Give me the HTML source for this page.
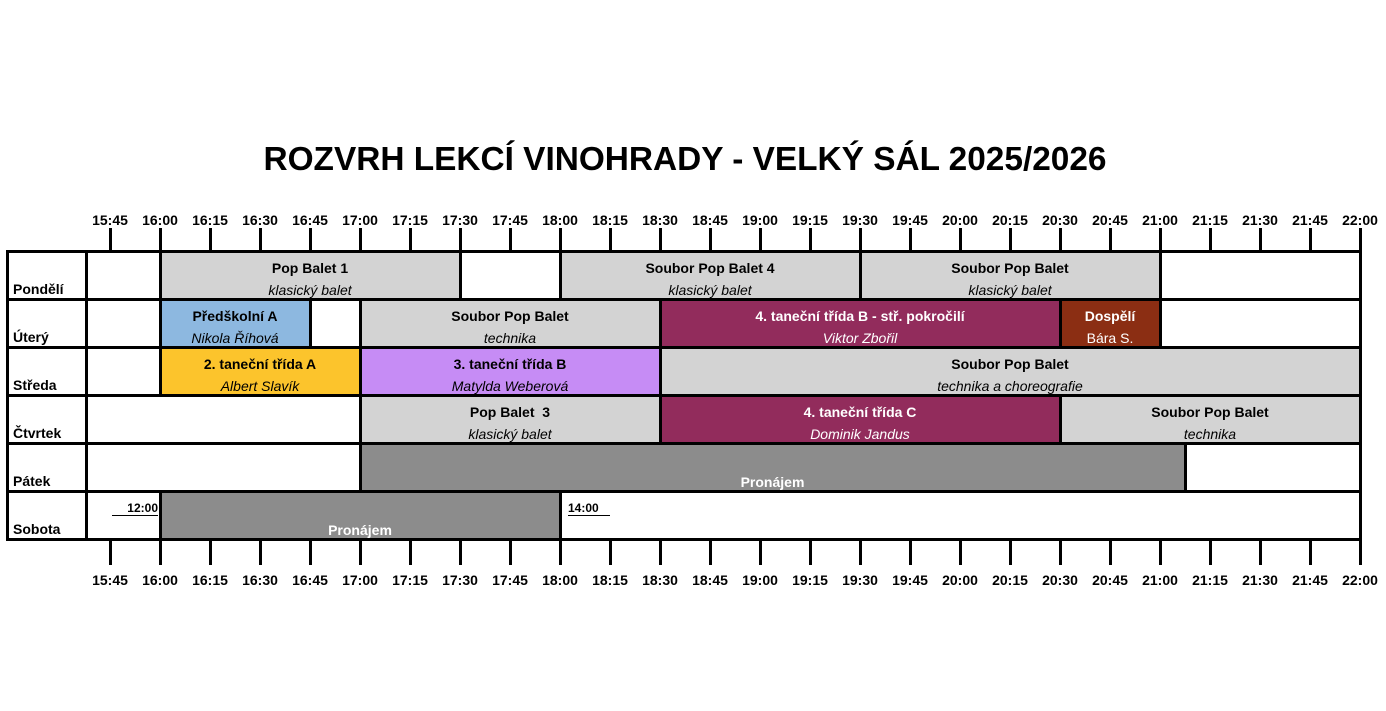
<!DOCTYPE html>
<html><head><meta charset="utf-8"><style>
body{margin:0;width:1386px;height:711px;background:#fff;position:relative;overflow:hidden;font-family:"Liberation Sans",Arial,sans-serif;}
.a{position:absolute}
.t{position:absolute;font-weight:bold;font-size:14px;width:60px;text-align:center;margin-left:-30px;line-height:16px}
.tk{position:absolute;width:3px;background:#000;margin-left:-1.5px}
.b{position:absolute;height:48px}
.b .h{position:absolute;left:0;right:0;top:9px;text-align:center;font-weight:bold;font-size:14px;line-height:16px}
.b .s{position:absolute;left:0;right:0;top:31px;text-align:center;font-style:italic;font-size:14px;line-height:16px}
.v{position:absolute;width:3px;height:51px;background:#000;margin-left:-1.5px}
.hl{position:absolute;left:6px;width:1356px;height:3px;background:#000}
.d{position:absolute;left:13px;font-weight:bold;font-size:14px;line-height:16px}
.w{color:#fff}
</style></head><body>
<div class="a" style="left:0;width:1370px;top:140px;text-align:center;font-weight:bold;font-size:33.4px;line-height:40px">ROZVRH LEKCÍ VINOHRADY - VELKÝ SÁL 2025/2026</div>

<div class="b" style="left:160px;width:300px;top:251px;background:#d3d3d3"><div class="h">Pop Balet 1</div><div class="s">klasický balet</div></div>
<div class="b" style="left:560px;width:300px;top:251px;background:#d3d3d3"><div class="h">Soubor Pop Balet 4</div><div class="s">klasický balet</div></div>
<div class="b" style="left:860px;width:300px;top:251px;background:#d3d3d3"><div class="h">Soubor Pop Balet</div><div class="s">klasický balet</div></div>

<div class="b" style="left:160px;width:150px;top:299px;background:#8db8e0"><div class="h">Předškolní A</div><div class="s">Nikola Říhová</div></div>
<div class="b" style="left:360px;width:300px;top:299px;background:#d3d3d3"><div class="h">Soubor Pop Balet</div><div class="s">technika</div></div>
<div class="b w" style="left:660px;width:400px;top:299px;background:#922c5c"><div class="h">4. taneční třída B - stř. pokročilí</div><div class="s">Viktor Zbořil</div></div>
<div class="b w" style="left:1060px;width:100px;top:299px;background:#8b2e13"><div class="h">Dospělí</div><div class="s" style="font-style:normal">Bára S.</div></div>

<div class="b" style="left:160px;width:200px;top:347px;background:#fcc42c"><div class="h">2. taneční třída A</div><div class="s">Albert Slavík</div></div>
<div class="b" style="left:360px;width:300px;top:347px;background:#c68cf5"><div class="h">3. taneční třída B</div><div class="s">Matylda Weberová</div></div>
<div class="b" style="left:660px;width:700px;top:347px;background:#d3d3d3"><div class="h">Soubor Pop Balet</div><div class="s">technika a choreografie</div></div>

<div class="b" style="left:360px;width:300px;top:395px;background:#d3d3d3"><div class="h">Pop Balet&nbsp; 3</div><div class="s">klasický balet</div></div>
<div class="b w" style="left:660px;width:400px;top:395px;background:#922c5c"><div class="h">4. taneční třída C</div><div class="s">Dominik Jandus</div></div>
<div class="b" style="left:1060px;width:300px;top:395px;background:#d3d3d3"><div class="h">Soubor Pop Balet</div><div class="s">technika</div></div>

<div class="b w" style="left:360px;width:825px;top:443px;background:#8c8c8c"><div class="s" style="font-style:normal;font-weight:bold">Pronájem</div></div>
<div class="b w" style="left:160px;width:400px;top:491px;background:#8c8c8c"><div class="s" style="font-style:normal;font-weight:bold">Pronájem</div></div>

<div class="a" style="left:112px;width:46px;top:502px;font-weight:bold;font-size:12px;text-align:right;line-height:13px;border-bottom:1px solid #000">12:00</div>
<div class="a" style="left:568px;width:42px;top:502px;font-weight:bold;font-size:12px;text-align:left;line-height:13px;border-bottom:1px solid #000">14:00</div>

<div class="d" style="top:281px">Pondělí</div>
<div class="d" style="top:329px">Úterý</div>
<div class="d" style="top:377px">Středa</div>
<div class="d" style="top:425px">Čtvrtek</div>
<div class="d" style="top:473px">Pátek</div>
<div class="d" style="top:521px">Sobota</div>

<div class="hl" style="top:250px"></div><div class="hl" style="top:298px"></div><div class="hl" style="top:346px"></div><div class="hl" style="top:394px"></div><div class="hl" style="top:442px"></div><div class="hl" style="top:490px"></div><div class="hl" style="top:538px"></div>

<div class="v" style="left:7.5px;top:250px;height:291px"></div>
<div class="v" style="left:86px;top:250px;height:291px"></div>
<div class="v" style="left:1360px;top:250px;height:291px"></div>
<div class="v" style="left:160px;top:250px"></div><div class="v" style="left:460px;top:250px"></div><div class="v" style="left:560px;top:250px"></div><div class="v" style="left:860px;top:250px"></div><div class="v" style="left:1160px;top:250px"></div>
<div class="v" style="left:160px;top:298px"></div><div class="v" style="left:310px;top:298px"></div><div class="v" style="left:360px;top:298px"></div><div class="v" style="left:660px;top:298px"></div><div class="v" style="left:1060px;top:298px"></div><div class="v" style="left:1160px;top:298px"></div>
<div class="v" style="left:160px;top:346px"></div><div class="v" style="left:360px;top:346px"></div><div class="v" style="left:660px;top:346px"></div>
<div class="v" style="left:360px;top:394px"></div><div class="v" style="left:660px;top:394px"></div><div class="v" style="left:1060px;top:394px"></div>
<div class="v" style="left:360px;top:442px"></div><div class="v" style="left:1185px;top:442px"></div>
<div class="v" style="left:160px;top:490px"></div><div class="v" style="left:560px;top:490px"></div>

<div class="tk" style="left:110px;top:228px;height:23px"></div><div class="tk" style="left:110px;top:541px;height:24px"></div><div class="t" style="left:110px;top:212px">15:45</div><div class="t" style="left:110px;top:572px">15:45</div>
<div class="tk" style="left:160px;top:228px;height:23px"></div><div class="tk" style="left:160px;top:541px;height:24px"></div><div class="t" style="left:160px;top:212px">16:00</div><div class="t" style="left:160px;top:572px">16:00</div>
<div class="tk" style="left:210px;top:228px;height:23px"></div><div class="tk" style="left:210px;top:541px;height:24px"></div><div class="t" style="left:210px;top:212px">16:15</div><div class="t" style="left:210px;top:572px">16:15</div>
<div class="tk" style="left:260px;top:228px;height:23px"></div><div class="tk" style="left:260px;top:541px;height:24px"></div><div class="t" style="left:260px;top:212px">16:30</div><div class="t" style="left:260px;top:572px">16:30</div>
<div class="tk" style="left:310px;top:228px;height:23px"></div><div class="tk" style="left:310px;top:541px;height:24px"></div><div class="t" style="left:310px;top:212px">16:45</div><div class="t" style="left:310px;top:572px">16:45</div>
<div class="tk" style="left:360px;top:228px;height:23px"></div><div class="tk" style="left:360px;top:541px;height:24px"></div><div class="t" style="left:360px;top:212px">17:00</div><div class="t" style="left:360px;top:572px">17:00</div>
<div class="tk" style="left:410px;top:228px;height:23px"></div><div class="tk" style="left:410px;top:541px;height:24px"></div><div class="t" style="left:410px;top:212px">17:15</div><div class="t" style="left:410px;top:572px">17:15</div>
<div class="tk" style="left:460px;top:228px;height:23px"></div><div class="tk" style="left:460px;top:541px;height:24px"></div><div class="t" style="left:460px;top:212px">17:30</div><div class="t" style="left:460px;top:572px">17:30</div>
<div class="tk" style="left:510px;top:228px;height:23px"></div><div class="tk" style="left:510px;top:541px;height:24px"></div><div class="t" style="left:510px;top:212px">17:45</div><div class="t" style="left:510px;top:572px">17:45</div>
<div class="tk" style="left:560px;top:228px;height:23px"></div><div class="tk" style="left:560px;top:541px;height:24px"></div><div class="t" style="left:560px;top:212px">18:00</div><div class="t" style="left:560px;top:572px">18:00</div>
<div class="tk" style="left:610px;top:228px;height:23px"></div><div class="tk" style="left:610px;top:541px;height:24px"></div><div class="t" style="left:610px;top:212px">18:15</div><div class="t" style="left:610px;top:572px">18:15</div>
<div class="tk" style="left:660px;top:228px;height:23px"></div><div class="tk" style="left:660px;top:541px;height:24px"></div><div class="t" style="left:660px;top:212px">18:30</div><div class="t" style="left:660px;top:572px">18:30</div>
<div class="tk" style="left:710px;top:228px;height:23px"></div><div class="tk" style="left:710px;top:541px;height:24px"></div><div class="t" style="left:710px;top:212px">18:45</div><div class="t" style="left:710px;top:572px">18:45</div>
<div class="tk" style="left:760px;top:228px;height:23px"></div><div class="tk" style="left:760px;top:541px;height:24px"></div><div class="t" style="left:760px;top:212px">19:00</div><div class="t" style="left:760px;top:572px">19:00</div>
<div class="tk" style="left:810px;top:228px;height:23px"></div><div class="tk" style="left:810px;top:541px;height:24px"></div><div class="t" style="left:810px;top:212px">19:15</div><div class="t" style="left:810px;top:572px">19:15</div>
<div class="tk" style="left:860px;top:228px;height:23px"></div><div class="tk" style="left:860px;top:541px;height:24px"></div><div class="t" style="left:860px;top:212px">19:30</div><div class="t" style="left:860px;top:572px">19:30</div>
<div class="tk" style="left:910px;top:228px;height:23px"></div><div class="tk" style="left:910px;top:541px;height:24px"></div><div class="t" style="left:910px;top:212px">19:45</div><div class="t" style="left:910px;top:572px">19:45</div>
<div class="tk" style="left:960px;top:228px;height:23px"></div><div class="tk" style="left:960px;top:541px;height:24px"></div><div class="t" style="left:960px;top:212px">20:00</div><div class="t" style="left:960px;top:572px">20:00</div>
<div class="tk" style="left:1010px;top:228px;height:23px"></div><div class="tk" style="left:1010px;top:541px;height:24px"></div><div class="t" style="left:1010px;top:212px">20:15</div><div class="t" style="left:1010px;top:572px">20:15</div>
<div class="tk" style="left:1060px;top:228px;height:23px"></div><div class="tk" style="left:1060px;top:541px;height:24px"></div><div class="t" style="left:1060px;top:212px">20:30</div><div class="t" style="left:1060px;top:572px">20:30</div>
<div class="tk" style="left:1110px;top:228px;height:23px"></div><div class="tk" style="left:1110px;top:541px;height:24px"></div><div class="t" style="left:1110px;top:212px">20:45</div><div class="t" style="left:1110px;top:572px">20:45</div>
<div class="tk" style="left:1160px;top:228px;height:23px"></div><div class="tk" style="left:1160px;top:541px;height:24px"></div><div class="t" style="left:1160px;top:212px">21:00</div><div class="t" style="left:1160px;top:572px">21:00</div>
<div class="tk" style="left:1210px;top:228px;height:23px"></div><div class="tk" style="left:1210px;top:541px;height:24px"></div><div class="t" style="left:1210px;top:212px">21:15</div><div class="t" style="left:1210px;top:572px">21:15</div>
<div class="tk" style="left:1260px;top:228px;height:23px"></div><div class="tk" style="left:1260px;top:541px;height:24px"></div><div class="t" style="left:1260px;top:212px">21:30</div><div class="t" style="left:1260px;top:572px">21:30</div>
<div class="tk" style="left:1310px;top:228px;height:23px"></div><div class="tk" style="left:1310px;top:541px;height:24px"></div><div class="t" style="left:1310px;top:212px">21:45</div><div class="t" style="left:1310px;top:572px">21:45</div>
<div class="tk" style="left:1360px;top:228px;height:23px"></div><div class="tk" style="left:1360px;top:541px;height:24px"></div><div class="t" style="left:1360px;top:212px">22:00</div><div class="t" style="left:1360px;top:572px">22:00</div>
</body></html>
